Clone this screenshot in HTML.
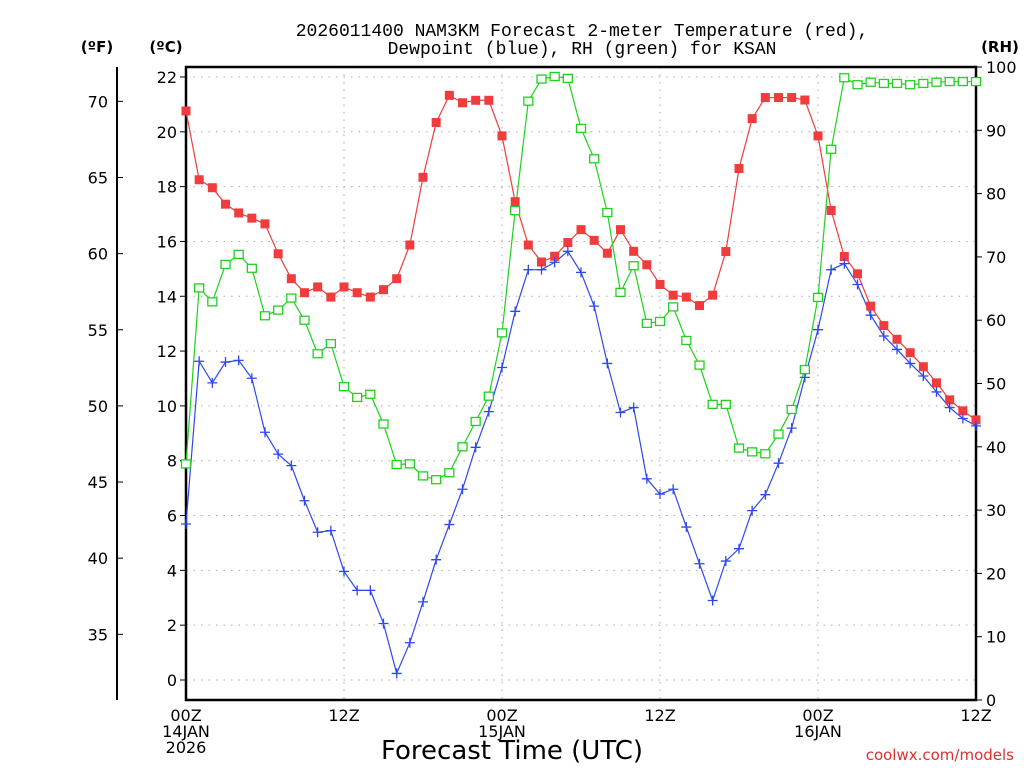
<!DOCTYPE html>
<html><head><meta charset="utf-8"><style>
body{margin:0;background:#fff;}
svg{display:block;font-family:"DejaVu Sans","Liberation Sans",sans-serif;}
</style></head><body>
<svg id="chart" width="1024" height="768" viewBox="0 0 1024 768" xmlns="http://www.w3.org/2000/svg">
<text x="582" y="36" font-size="18" font-family="Liberation Mono, monospace" text-anchor="middle">2026011400 NAM3KM Forecast 2-meter Temperature (red),</text>
<text x="582" y="54" font-size="18" font-family="Liberation Mono, monospace" text-anchor="middle">Dewpoint (blue), RH (green) for KSAN</text>
<text x="97" y="52" font-size="15" font-weight="bold" text-anchor="middle">(ºF)</text>
<text x="166" y="52" font-size="15" font-weight="bold" text-anchor="middle">(ºC)</text>
<text x="1000" y="52" font-size="15" font-weight="bold" text-anchor="middle">(RH)</text>
<g id="grid"></g><g id="axes"></g><g id="series"></g>
<text x="512" y="759" font-size="26" text-anchor="middle">Forecast Time (UTC)</text>
<text x="1014" y="760" font-size="15" fill="#e03030" text-anchor="end">coolwx.com/models</text>
</svg>
<script>
const hours = Array.from({length:61},(_,i)=>i);
const tempC = [20.76,18.25,17.96,17.36,17.04,16.85,16.64,15.55,14.64,14.13,14.34,13.97,14.34,14.13,13.97,14.24,14.64,15.87,18.34,20.34,21.33,21.06,21.15,21.15,19.85,
17.45,15.87,15.25,15.46,15.96,16.43,16.04,15.57,16.43,15.64,15.15,14.43,14.04,13.97,13.66,14.04,15.63,18.66,20.48,21.25,21.25,21.25,21.16,19.85,
17.13,15.45,14.82,13.64,12.93,12.43,11.94,11.43,10.84,10.22,9.82,9.49];
const dewC = [5.69,11.63,10.84,11.60,11.66,11.01,9.04,8.24,7.82,6.54,5.39,5.45,3.96,3.27,3.27,2.06,0.24,1.36,2.85,4.39,5.67,6.96,8.49,9.79,11.40,
13.45,14.97,14.97,15.24,15.64,14.87,13.64,11.55,9.76,9.94,7.34,6.78,6.96,5.58,4.24,2.90,4.34,4.79,6.18,6.76,7.91,9.19,11.04,12.78,
14.97,15.19,14.43,13.31,12.55,12.06,11.55,11.09,10.51,9.94,9.54,9.27];
const rh = [37.3,65.1,62.9,68.8,70.4,68.2,60.7,61.6,63.5,60.0,54.7,56.3,49.5,47.8,48.3,43.6,37.2,37.3,35.4,34.8,35.9,40.0,44.0,48.0,58.0,
77.3,94.6,98.1,98.5,98.2,90.3,85.5,77.0,64.4,68.6,59.5,59.8,62.1,56.8,52.9,46.7,46.7,39.8,39.2,38.9,42.0,45.9,52.2,63.6,
87.0,98.3,97.2,97.6,97.4,97.4,97.2,97.4,97.6,97.7,97.7,97.7];
const cTicks = [0,2,4,6,8,10,12,14,16,18,20,22];
const fTicks = [35,40,45,50,55,60,65,70];
const rhTicks = [0,10,20,30,40,50,60,70,80,90,100];
const xTickHours = [0,12,24,36,48,60];
const xTickLabels = [["00Z","14JAN","2026"],["12Z"],["00Z","15JAN"],["12Z"],["00Z","16JAN"],["12Z"]];

const L=186,R=976,T=67,B=700;
const xS=h=>L+(R-L)*h/60;
const yC=c=>680-c*27.41;
const yF=f=>yC((f-32)*5/9);
const yRH=v=>B-(B-T)*v/100;
const NS="http://www.w3.org/2000/svg";
function mk(parent,tag,attrs,txt){const e=document.createElementNS(NS,tag);for(const k in attrs)e.setAttribute(k,attrs[k]);if(txt!==undefined)e.textContent=txt;document.getElementById(parent).appendChild(e);return e;}

cTicks.forEach(c=>{
  const g=mk('grid','line',{x1:L,x2:R,y1:yC(c),y2:yC(c),stroke:'#aaa','stroke-dasharray':'1.5 6'});
  
  
  const t=mk('axes','line',{x1:L-6,x2:L,y1:yC(c),y2:yC(c),stroke:'#000'});
  
  
  const l=mk('axes','text',{x:L-9,y:yC(c)+6,'font-size':16,'text-anchor':'end'},String(c));
  
  
});
xTickHours.forEach((h,i)=>{
  if(h>0&&h<60){const g=mk('grid','line',{x1:xS(h),x2:xS(h),y1:T,y2:B,stroke:'#aaa','stroke-dasharray':'1.5 6'});
  
  }
  xTickLabels[i].forEach((s,j)=>{
    const l=mk('axes','text',{x:xS(h),y:721+j*16,'font-size':16,'text-anchor':'middle'},s);
    
    
  });
});
fTicks.forEach(f=>{
  const t=mk('axes','line',{x1:117,x2:123,y1:yF(f),y2:yF(f),stroke:'#000'});
  
  
  const l=mk('axes','text',{x:108,y:yF(f)+6,'font-size':16,'text-anchor':'end'},String(f));
  
  
});
rhTicks.forEach(v=>{
  const t=mk('axes','line',{x1:R,x2:R+6,y1:yRH(v),y2:yRH(v),stroke:'#000'});
  
  
  const l=mk('axes','text',{x:R+10,y:yRH(v)+6,'font-size':16},String(v));
  
  
});
const fa=mk('axes','line',{x1:117,x2:117,y1:67,y2:700,stroke:'#000','stroke-width':2});


const fr=mk('axes','rect',{x:L,y:T,width:R-L,height:B-T,fill:'none',stroke:'#000','stroke-width':2.5});



function line(vals,yf,color,name){
  const p=mk('series','polyline',{points:vals.map((v,i)=>xS(hours[i])+','+yf(v)).join(' '),fill:'none',stroke:color,'stroke-width':1.2});
  
  
}
line(tempC,yC,'#f03c3c','temperature-line');
line(dewC,yC,'#2d48f0','dewpoint-line');
line(rh,yRH,'#1ed21e','rh-line');
tempC.forEach((v,i)=>{
  const r=mk('series','rect',{x:xS(hours[i])-4.5,y:yC(v)-4.5,width:9,height:9,fill:'#f03c3c'});
  
  
});
dewC.forEach((v,i)=>{
  const x=xS(hours[i]),y=yC(v);
  const p=mk('series','path',{d:`M${x-5},${y}H${x+5}M${x},${y-5}V${y+5}`,stroke:'#2d48f0','stroke-width':1.3});
  
  
});
rh.forEach((v,i)=>{
  const r=mk('series','rect',{x:xS(hours[i])-4.5,y:yRH(v)-4,width:9,height:8,fill:'#fff',stroke:'#1ed21e','stroke-width':1.3});
  
  
});
</script>
</body></html>
